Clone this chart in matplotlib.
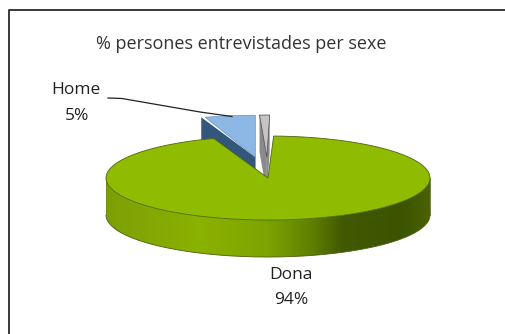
import numpy as np
import matplotlib
matplotlib.use("Agg")
import matplotlib.pyplot as plt
from matplotlib.colors import LinearSegmentedColormap
from matplotlib.patches import Polygon

plt.rcParams["font.family"] = ["Open Sans", "DejaVu Sans"]

# ---------------------------------------------------
# Data
# ---------------------------------------------------
categories = ["Dona", "Home", "Altres"]
shares = [94, 5, 1]
explode = [0, 0.5, 0.5]
label_cats = ["Home", "Dona"]
label_vals = ["5%", "94%"]

# pie geometry, in pixels
CX, CY = 268, 178
RX, RY = 162, 42
DEPTH = 37
START = 88
# small rotation of the pulled-out slices
TURN = [0, -1.6, 1.0]


def arc(t1, t2, cx, cy, n=120):
    t = np.radians(np.linspace(t1, t2, n))
    return np.column_stack([cx + RX * np.cos(t), cy - RY * np.sin(t)])


# clockwise slice angles, from the starting angle
ends = START - np.cumsum(shares) * 3.6
starts = np.r_[START, ends[:-1]]

fig = plt.figure(figsize=(5.06, 3.34), dpi=100)
ax = fig.add_axes([0, 0, 1, 1])
ax.set_xlim(0, 506)
ax.set_ylim(334, 0)
ax.axis("off")

# outer chart frame, runs off the right and bottom
ax.plot([9.5, 9.5, 506], [334, 10, 10], color="#2a2a2a", lw=1.3, zorder=1)


def draw_slice(i, top_color, side_color, edge, z, side_shift=0):
    a1, a2 = starts[i] + TURN[i], ends[i] + TURN[i]
    mid = np.radians((a1 + a2) / 2)
    cx = CX + RX * explode[i] * np.cos(mid)
    cy = CY - RY * explode[i] * np.sin(mid)
    rim = arc(a1, a2, cx, cy, 20)
    # cut faces first, then the top
    for p in (rim[0], rim[-1]):
        px = p[0] - side_shift
        face = [(cx, cy), (px, p[1]), (px, p[1] + DEPTH), (cx, cy + DEPTH)]
        ax.add_patch(Polygon(face, fc=side_color, ec="none", zorder=z))
    top = np.vstack([[cx, cy], rim])
    ax.add_patch(Polygon(top, fc=top_color, ec=edge, lw=0.5, zorder=z + 0.1))


draw_slice(1, "#8db8e6", "#33567c", "#6f94bd", 2, side_shift=4)
draw_slice(2, "#c4c4c4", "#8a8a8a", "#444444", 2)

# ---------------------------------------------------
# Large slice: rim with a shaded gradient, then the top
# ---------------------------------------------------
lower = arc(180, 360, CX, CY + DEPTH)
upper = arc(360, 180, CX, CY)
side = Polygon(np.vstack([lower, upper]), fc="none", ec="none", zorder=3)
ax.add_patch(side)

rim_cmap = LinearSegmentedColormap.from_list(
    "rim",
    [(0, "#7d9f06"), (0.29, "#8ab200"), (0.5, "#7da300"),
     (0.634, "#5f8000"), (0.73, "#415a00"), (0.91, "#3c5300"), (1, "#4a6200")],
)
grad = ax.imshow(
    np.linspace(0, 1, 256)[None, :],
    cmap=rim_cmap,
    extent=[CX - RX, CX + RX, CY + RY + DEPTH, CY - RY],
    aspect="auto",
    zorder=3,
)
grad.set_clip_path(side)
ax.set_xlim(0, 506)
ax.set_ylim(334, 0)

ax.plot(lower[:, 0], lower[:, 1], color="#4c5f10", lw=0.6, zorder=3.2)
ax.plot([CX - RX, CX - RX], [CY, CY + DEPTH], color="#6c8a10", lw=0.5, zorder=3.2)
ax.plot([CX + RX, CX + RX], [CY, CY + DEPTH], color="#3c4f00", lw=0.5, zorder=3.2)

top = np.vstack([[CX, CY], arc(starts[0], ends[0], CX, CY, 300)])
ax.add_patch(Polygon(top, fc="#8fbb00", ec="#4f6608", lw=0.6, zorder=4))

# ---------------------------------------------------
# Text
# ---------------------------------------------------
ax.text(241, 44, "% persones entrevistades per sexe", ha="center", va="center",
        fontsize=13, color="#333333", zorder=5)
ax.text(76, 90, label_cats[0], ha="center", va="center", fontsize=12.5, color="#222222", zorder=5)
ax.text(77, 116, label_vals[0], ha="center", va="center", fontsize=12.5, color="#222222", zorder=5)
ax.text(291, 275, label_cats[1], ha="center", va="center", fontsize=12.5, color="#222222", zorder=5)
ax.text(291, 300, label_vals[1], ha="center", va="center", fontsize=12.5, color="#222222", zorder=5)

# leader line from the Home label to its slice
ax.plot([108, 122, 200, 232], [98, 98.5, 112, 116.5], color="#222222", lw=0.9, zorder=5)

fig.savefig("out.png", dpi=100)
